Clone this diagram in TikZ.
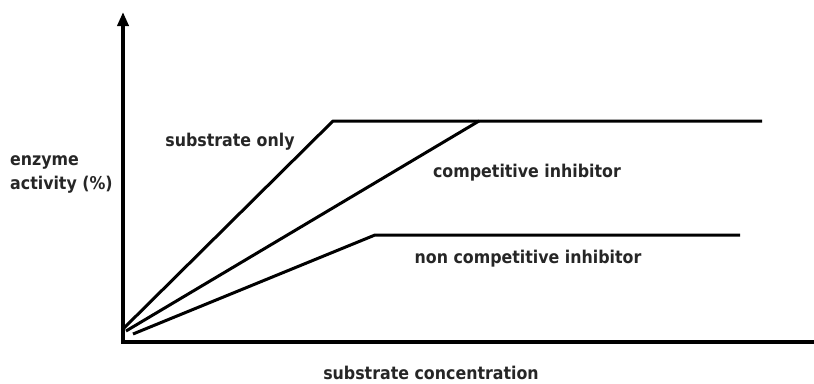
\documentclass[tikz,border=0pt]{standalone}
\usepackage{fontspec}
\setmainfont{DejaVu Sans Condensed}
\usetikzlibrary{arrows.meta}
\begin{document}
\begin{tikzpicture}[x=1pt,y=-1pt,
  axis/.style={line width=3.5pt,black},
  curve/.style={line width=3pt,black,line join=round},
  lbl/.style={font=\bfseries\fontsize{17.6}{24}\selectfont,text=black!85,inner sep=0pt}]
\useasboundingbox (0,0) rectangle (814,383);
\coordinate (O) at (123,342);
\coordinate (ytop) at (123,12);
\coordinate (xend) at (814,342);
\draw[axis,-{Triangle[length=14pt,width=11pt]}] (O) -- (ytop);
\draw[axis] ([xshift=-1.75pt]O) -- (xend);
\coordinate (s0) at (124,328);
\coordinate (s1) at (333,121);
\coordinate (s2) at (762,121);
\coordinate (c0) at (126,331);
\coordinate (c1) at (479,121);
\coordinate (n0) at (133,334);
\coordinate (n1) at (375,235);
\coordinate (n2) at (740,235);
\draw[curve] (s0) -- (s1) -- (s2);
\draw[curve] (c0) -- (c1);
\draw[curve] (n0) -- (n1) -- (n2);
\node[lbl] (ls) at (230,142) {substrate only};
\node[lbl] (lc) at (527,173) {competitive inhibitor};
\node[lbl] (ln) at (528,259) {non competitive inhibitor};
\node[lbl,anchor=west,align=left] (ly) at (10,174) {enzyme\\activity (\%)};
\node[lbl] (lx) at (431,373) {substrate concentration};
\end{tikzpicture}
\end{document}
